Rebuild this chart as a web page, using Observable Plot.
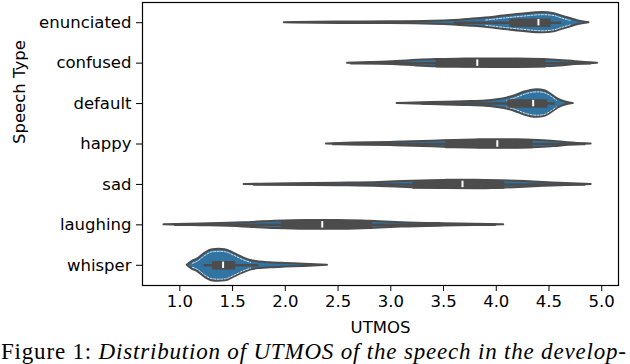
<!DOCTYPE html>
<html>
<head>
<meta charset="utf-8">
<script src="https://cdn.jsdelivr.net/npm/d3@7"></script>
<script src="https://cdn.jsdelivr.net/npm/@observablehq/plot@0.6"></script>
<style>
  html, body { margin: 0; padding: 0; background: #fff; }
  #chart svg { display: block; }
  #caption { display: block; }
  #caption text { font-family: "Liberation Serif", "Times New Roman", serif; font-size: 23px; fill: #000; }
</style>
</head>
<body>
<div id="chart"></div>
<svg id="caption" width="630" height="26"></svg>
<script>
// ---- data ----
const categories = ["enunciated", "confused", "default", "happy", "sad", "laughing", "whisper"];
const xTicks = [1.0, 1.5, 2.0, 2.5, 3.0, 3.5, 4.0, 4.5, 5.0];

// violin outlines: [UTMOS value, half width (fraction of a category step)]
const enunciatedDensity = [[1.99,0],[2.5,0.018],[3.0,0.022],[3.4,0.035],[3.6,0.055],[3.76,0.085],[3.9,0.115],[4.07,0.165],[4.26,0.215],[4.44,0.25],[4.55,0.225],[4.61,0.175],[4.7,0.105],[4.77,0.05],[4.88,0]];
const confusedDensity = [[2.59,0],[2.8,0.015],[3.06,0.04],[3.25,0.07],[3.43,0.09],[3.7,0.1],[3.95,0.105],[4.2,0.105],[4.45,0.09],[4.6,0.068],[4.75,0.035],[4.96,0]];
const defaultDensity = [[3.06,0],[3.38,0.025],[3.7,0.045],[3.9,0.065],[4.01,0.095],[4.1,0.135],[4.18,0.195],[4.27,0.285],[4.33,0.325],[4.39,0.34],[4.46,0.315],[4.52,0.23],[4.57,0.135],[4.62,0.07],[4.73,0]];
const happyDensity = [[2.39,0],[2.65,0.022],[3.0,0.04],[3.3,0.06],[3.5,0.08],[3.8,0.1],[4.0,0.108],[4.2,0.105],[4.4,0.088],[4.55,0.065],[4.68,0.032],[4.9,0]];
const sadDensity = [[1.61,0],[2.05,0.018],[2.5,0.032],[2.9,0.05],[3.2,0.08],[3.5,0.1],[3.8,0.105],[4.05,0.092],[4.27,0.07],[4.45,0.045],[4.6,0.03],[4.9,0]];
const laughingDensity = [[0.85,0],[1.2,0.02],[1.6,0.05],[1.9,0.09],[2.2,0.11],[2.5,0.11],[2.8,0.088],[3.1,0.055],[3.5,0.03],[3.8,0.017],[4.07,0]];
const whisperDensity = [[1.07,0],[1.12,0.1],[1.165,0.15],[1.24,0.3],[1.3,0.38],[1.37,0.395],[1.43,0.385],[1.51,0.3],[1.59,0.2],[1.67,0.12],[1.76,0.08],[1.86,0.062],[2.0,0.045],[2.18,0.028],[2.4,0]];

// inner box statistics per category (same order as categories)
const whiskerLow  = [3.60, 2.62, 3.30, 2.45, 1.70, 0.95, 1.23];
const quartile1   = [4.13, 3.43, 4.11, 3.52, 3.21, 1.96, 1.31];
const medians     = [4.40, 3.82, 4.35, 4.01, 3.68, 2.35, 1.41];
const quartile3   = [4.52, 4.47, 4.49, 4.35, 4.08, 2.83, 1.53];
const whiskerHigh = [4.62, 4.90, 4.56, 4.85, 4.85, 4.00, 1.75];

// ---- build tables ----
const densities = [enunciatedDensity, confusedDensity, defaultDensity, happyDensity, sadDensity, laughingDensity, whisperDensity];
const violinRows = densities.flatMap((pts, i) => pts.map(([v, w]) => ({cat: i, v, w})));
const boxRows = categories.map((c, i) => ({
  cat: i, lo: whiskerLow[i], q1: quartile1[i], med: medians[i], q3: quartile3[i], hi: whiskerHigh[i]
}));

const gray = "#4c4c4c";
const blue = "#3274a1";
const inset = 0.05;
const innerY = (d, sign) => (d.w - inset > 0.045 ? d.cat + sign * (d.w - inset) : NaN);

const chart = Plot.plot({
  width: 630,
  height: 338,
  marginLeft: 142,
  marginRight: 12,
  marginTop: 2,
  marginBottom: 53,
  style: {fontFamily: "'DejaVu Sans', sans-serif", fontSize: "16.5px", color: "black", background: "white"},
  x: {domain: [0.646, 5.159]},
  y: {domain: [6.5, -0.5]},
  marks: [
    Plot.areaY(violinRows, {
      x: "v", y1: d => d.cat - d.w, y2: d => d.cat + d.w, z: "cat",
      fill: blue, stroke: gray, strokeWidth: 2, curve: "monotone-x"
    }),
    Plot.line(violinRows, {x: "v", y: d => innerY(d, -1), z: "cat", stroke: "white", strokeWidth: 0.8, strokeDasharray: "2,1.5", curve: "monotone-x"}),
    Plot.line(violinRows, {x: "v", y: d => innerY(d, 1), z: "cat", stroke: "white", strokeWidth: 0.8, strokeDasharray: "2,1.5", curve: "monotone-x"}),
    Plot.ruleY(boxRows, {y: "cat", x1: "lo", x2: "hi", stroke: gray, strokeWidth: 2.5}),
    Plot.ruleY(boxRows, {y: "cat", x1: "q1", x2: "q3", stroke: gray, strokeWidth: 8.5}),
    Plot.ruleX(boxRows, {x: "med", y1: d => d.cat - 0.08, y2: d => d.cat + 0.08, stroke: "white", strokeWidth: 2}),
    Plot.frame({stroke: "black", strokeWidth: 1.2}),
    Plot.axisX({ticks: xTicks, tickFormat: d3.format(".1f"), tickSize: 6, tickPadding: 4, label: null}),
    Plot.axisY({ticks: d3.range(categories.length), tickFormat: i => categories[i], tickSize: 6, tickPadding: 5, label: null}),
    Plot.text(["UTMOS"], {frameAnchor: "bottom", dy: 42, lineAnchor: "middle", fill: "black"}),
    Plot.text(["Speech Type"], {frameAnchor: "left", dx: -123, rotate: -90, lineAnchor: "middle", fill: "black"})
  ]
});
document.getElementById("chart").append(chart);

// caption (real text)
const cap = d3.select("#caption");
const t = cap.append("text")
  .attr("x", 1).attr("y", 21)
  .attr("textLength", 625).attr("lengthAdjust", "spacing");
t.append("tspan").text("Figure 1: ");
t.append("tspan").attr("font-style", "italic").text("Distribution of UTMOS of the speech in the develop-");
</script>
</body>
</html>
